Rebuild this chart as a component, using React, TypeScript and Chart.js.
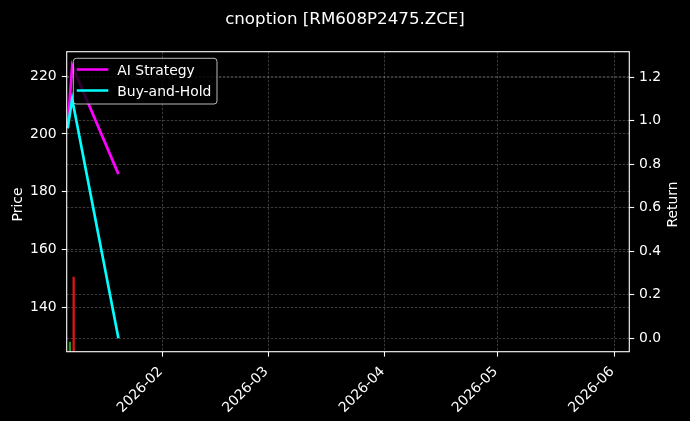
import React, { useEffect, useRef } from "react";
import { Chart, registerables } from "chart.js";

Chart.register(...registerables);

// ---------- data ----------
const TITLE = "cnoption [RM608P2475.ZCE]";
const LINE_TIMES = ["2026-01-06T16:48", "2026-01-07T21:36", "2026-01-20T04:48"];
const AI_STRATEGY = [0.966, 1.255, 0.755];
const BUY_AND_HOLD = [0.966, 1.1, 0.0];
const CANDLE_DATES = ["2026-01-07", "2026-01-08"];
const CANDLE_OPEN = [118, 150.7];
const CANDLE_CLOSE = [128.2, 112];
const X_TICK_DATES = ["2026-02-01", "2026-03-01", "2026-04-01", "2026-05-01", "2026-06-01"];
const X_RANGE = ["2026-01-06T10:48", "2026-06-05T00:00"];
const PRICE_TICKS = [140, 160, 180, 200, 220];
const PRICE_RANGE = [124.8, 228.4];
const RETURN_TICKS = [0, 0.2, 0.4, 0.6, 0.8, 1.0, 1.2];
const RETURN_RANGE = [-0.0616, 1.318];
const SERIES_NAMES = ["AI Strategy", "Buy-and-Hold"];
const SERIES_COLORS = ["#ff00ff", "#00ffff"];

// ---------- helpers ----------
const FONT = "DejaVu Sans";
const LINE_W = 2.7;
const toDay = (s: string) => {
  const [d, t] = s.split("T");
  const [Y, M, D] = d.split("-").map(Number);
  const [h, m] = t ? t.split(":").map(Number) : [0, 0];
  return (Date.UTC(Y, M - 1, D, h, m) - Date.UTC(2026, 0, 1)) / 86400000;
};
const xTicks = X_TICK_DATES.map(toDay);
const xLabel = (v: number) => {
  const i = xTicks.findIndex((t) => Math.abs(t - v) < 1e-6);
  return i >= 0 ? X_TICK_DATES[i].slice(0, 7) : "";
};
const GRID = "rgba(255,255,255,0.28)";

const overlay = {
  id: "overlay",
  beforeDraw(chart: any) {
    const { ctx, width, height } = chart;
    ctx.save();
    ctx.fillStyle = "#000";
    ctx.fillRect(0, 0, width, height);
    ctx.restore();
  },
  afterDatasetsDraw(chart: any) {
    const { ctx, chartArea: a, width } = chart;
    ctx.save();
    // spines
    ctx.strokeStyle = "#fff";
    ctx.lineWidth = 1.1;
    ctx.strokeRect(a.left, a.top, a.right - a.left, a.bottom - a.top);

    // legend
    ctx.font = `13.9px ${FONT}`;
    const maxW = Math.max(...SERIES_NAMES.map((n) => ctx.measureText(n).width));
    const bx = a.left + 6.6;
    const by = a.top + 6.6;
    const bw = 44 + maxW + 5.6;
    const bh = 45.7;
    ctx.beginPath();
    ctx.roundRect(bx, by, bw, bh, 3);
    ctx.fillStyle = "rgba(0,0,0,0.8)";
    ctx.fill();
    ctx.strokeStyle = "rgba(204,204,204,0.9)";
    ctx.lineWidth = 1;
    ctx.stroke();
    SERIES_NAMES.forEach((n, i) => {
      const ry = by + 11.2 + i * 21;
      ctx.strokeStyle = SERIES_COLORS[i];
      ctx.lineWidth = LINE_W;
      ctx.beginPath();
      ctx.moveTo(bx + 3.4, ry);
      ctx.lineTo(bx + 35, ry);
      ctx.stroke();
      ctx.fillStyle = "#fff";
      ctx.textAlign = "left";
      ctx.textBaseline = "alphabetic";
      ctx.fillText(n, bx + 44, ry + 5.2);
    });

    // title
    ctx.font = `16.67px ${FONT}`;
    ctx.fillStyle = "#fff";
    ctx.textAlign = "center";
    ctx.textBaseline = "alphabetic";
    ctx.fillText(TITLE, width / 2, 24);

    // axis titles
    ctx.font = `13.9px ${FONT}`;
    ctx.save();
    ctx.translate(21.7, 204.5);
    ctx.rotate(-Math.PI / 2);
    ctx.fillText("Price", 0, 0);
    ctx.restore();
    ctx.save();
    ctx.translate(677.3, 204.5);
    ctx.rotate(-Math.PI / 2);
    ctx.fillText("Return", 0, 0);
    ctx.restore();
    ctx.restore();
  },
};

const tickFont = { family: FONT, size: 13.9 };

export default function App() {
  const ref = useRef<HTMLCanvasElement>(null);
  useEffect(() => {
    document.body.style.margin = "0";
    document.body.style.background = "#000";
    const lineX = LINE_TIMES.map(toDay);
    const chart = new Chart(ref.current!, {
      type: "line",
      data: {
        datasets: [
          {
            type: "line",
            label: SERIES_NAMES[1],
            data: lineX.map((x, i) => ({ x, y: BUY_AND_HOLD[i] })),
            borderColor: SERIES_COLORS[1],
            borderWidth: LINE_W,
            pointRadius: 0,
            tension: 0,
            yAxisID: "y1",
            order: 0,
          },
          {
            type: "line",
            label: SERIES_NAMES[0],
            data: lineX.map((x, i) => ({ x, y: AI_STRATEGY[i] })),
            borderColor: SERIES_COLORS[0],
            borderWidth: LINE_W,
            pointRadius: 0,
            tension: 0,
            yAxisID: "y1",
            order: 1,
          },
          {
            type: "bar",
            label: "candles",
            data: CANDLE_DATES.map((d, i) => ({
              x: toDay(d) + 0.3,
              y: [CANDLE_OPEN[i], CANDLE_CLOSE[i]],
            })) as any,
            backgroundColor: CANDLE_DATES.map((_, i) =>
              CANDLE_CLOSE[i] >= CANDLE_OPEN[i] ? "rgb(34,150,34)" : "rgb(225,20,20)"
            ),
            borderWidth: 0,
            barPercentage: 0.6,
            categoryPercentage: 1,
            grouped: false,
            yAxisID: "y",
            order: 2,
          } as any,
        ],
      },
      options: {
        animation: false,
        responsive: false,
        events: [],
        layout: { padding: { top: 51.7, left: 0, right: 0, bottom: 0 } },
        plugins: {
          legend: { display: false },
          tooltip: { enabled: false },
          title: { display: false },
        },
        scales: {
          x: {
            type: "linear",
            offset: false,
            min: toDay(X_RANGE[0]),
            max: toDay(X_RANGE[1]),
            afterBuildTicks: (s: any) => {
              s.ticks = xTicks.map((v) => ({ value: v }));
            },
            afterFit: (s: any) => {
              s.height = 69.3;
              s.paddingLeft = 0;
              s.paddingRight = 0;
            },
            ticks: {
              autoSkip: false,
              maxRotation: 45,
              minRotation: 45,
              color: "#fff",
              font: tickFont,
              padding: 7,
              labelOffset: -2,
              callback: (v: any) => xLabel(Number(v)),
            },
            grid: { offset: false, color: GRID, lineWidth: 0.8, tickColor: "#fff", tickLength: 4.9, tickWidth: 1.1 },
            border: { display: false, dash: [2.5, 1.5] },
          },
          y: {
            type: "linear",
            position: "left",
            min: PRICE_RANGE[0],
            max: PRICE_RANGE[1],
            afterBuildTicks: (s: any) => {
              s.ticks = PRICE_TICKS.map((v) => ({ value: v }));
            },
            afterFit: (s: any) => {
              s.width = 66.7;
            },
            ticks: {
              color: "#fff",
              font: tickFont,
              padding: 5.2,
              callback: (v: any) => String(v),
            },
            grid: { color: GRID, lineWidth: 0.8, tickColor: "#fff", tickLength: 4.9, tickWidth: 1.1 },
            border: { display: false, dash: [2.5, 1.5] },
          },
          y1: {
            type: "linear",
            position: "right",
            min: RETURN_RANGE[0],
            max: RETURN_RANGE[1],
            afterBuildTicks: (s: any) => {
              s.ticks = RETURN_TICKS.map((v) => ({ value: v }));
            },
            afterFit: (s: any) => {
              s.width = 60.7;
            },
            ticks: {
              color: "#fff",
              font: tickFont,
              padding: 4.9,
              callback: (v: any) => Number(v).toFixed(1),
            },
            grid: { color: GRID, lineWidth: 0.8, tickColor: "#fff", tickLength: 4.9, tickWidth: 1.1 },
            border: { display: false, dash: [2.5, 1.5] },
          },
        },
      } as any,
      plugins: [overlay],
    });
    return () => chart.destroy();
  }, []);
  return (
    <div style={{ position: "fixed", left: 0, top: 0, width: 690, height: 421, background: "#000" }}>
      <canvas ref={ref} width={690} height={421} style={{ display: "block", width: 690, height: 421 }} />
    </div>
  );
}
